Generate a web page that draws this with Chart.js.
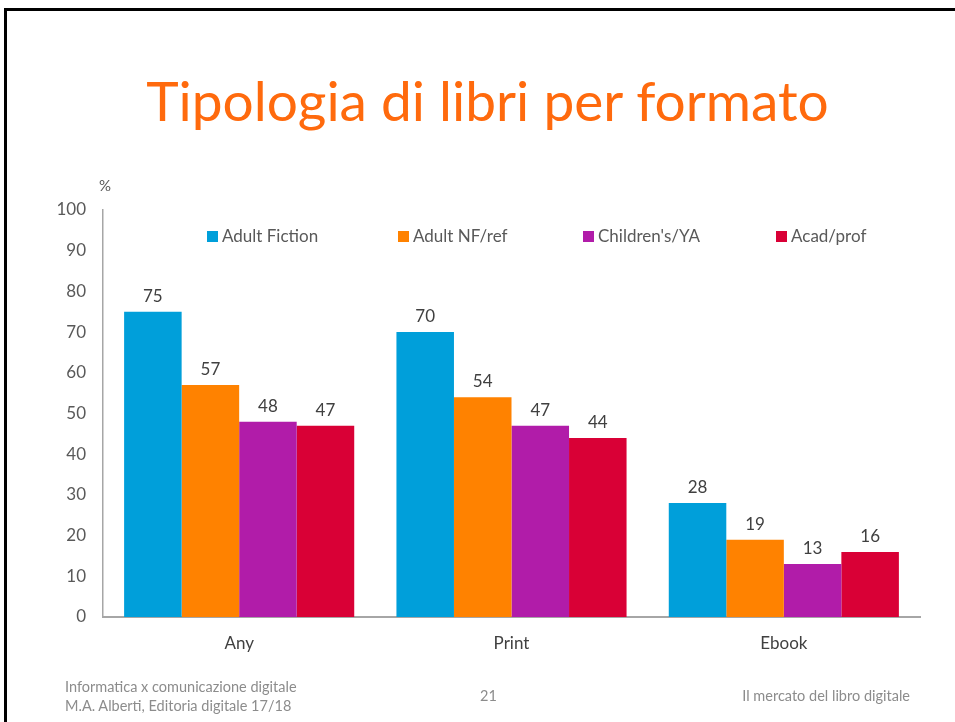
<!DOCTYPE html>
<html>
<head>
<meta charset="utf-8">
<script src="https://cdn.jsdelivr.net/npm/chart.js@4.4.1/dist/chart.umd.min.js"></script>
<style>
  html, body { margin: 0; padding: 0; background: #fff; }
  body { width: 955px; height: 722px; position: relative; overflow: hidden; font-family: Lato, "Open Sans", sans-serif; }
  #frame { position: absolute; left: 4px; top: 8px; width: 1000px; height: 800px; border-top: 3px solid #000; border-left: 3px solid #000; box-sizing: border-box; }
  #chart { position: absolute; left: 0; top: 0; }
  .title { position: absolute; left: 0; width: 975px; top: 67px; text-align: center; color: #ff6a0d; font-size: 55px; white-space: nowrap; }
  .pct { position: absolute; left: 99px; top: 176px; color: #595959; font-size: 15px; }
  .legend { position: absolute; top: 225px; color: #595959; font-size: 17px; white-space: nowrap; }
  .legend i { display: inline-block; width: 11px; height: 11px; margin-right: 4px; vertical-align: 0px; }
  .foot { position: absolute; color: #8c8c8c; font-size: 14.5px; white-space: nowrap; }
</style>
</head>
<body>
<div id="frame"></div>
<canvas id="chart" width="955" height="722"></canvas>
<div class="title">Tipologia di libri per formato</div>
<div class="pct">%</div>
<div id="legend"></div>
<div class="foot" style="left:65px; top:678px;">Informatica x comunicazione digitale</div>
<div class="foot" style="left:65px; top:697px;">M.A. Alberti, Editoria digitale 17/18</div>
<div class="foot" style="left:480px; top:687px;">21</div>
<div class="foot" style="right:45px; top:687px;">Il mercato del libro digitale</div>
<script>
const categories = ['Any', 'Print', 'Ebook'];
const seriesNames = ['Adult Fiction', 'Adult NF/ref', "Children's/YA", 'Acad/prof'];
const adultFiction = [75, 70, 28];
const adultNF = [57, 54, 19];
const childrens = [48, 47, 13];
const acadProf = [47, 44, 16];
const yTicks = [0, 10, 20, 30, 40, 50, 60, 70, 80, 90, 100];

const colors = ['#009fda', '#ff8200', '#b11ca9', '#d90036'];
const legendX = [207, 398, 583, 776];

// legend
const legendEl = document.getElementById('legend');
seriesNames.forEach((name, i) => {
    const d = document.createElement('div');
    d.className = 'legend';
    d.style.left = legendX[i] + 'px';
    d.innerHTML = '<i style="background:' + colors[i] + '"></i>' + name;
    legendEl.appendChild(d);
});

// value labels above bars
const valueLabels = {
    id: 'valueLabels',
    afterDatasetsDraw(chart) {
        const ctx = chart.ctx;
        ctx.save();
        ctx.font = '17px Lato, "Open Sans", sans-serif';
        ctx.fillStyle = '#404040';
        ctx.textAlign = 'center';
        ctx.textBaseline = 'bottom';
        chart.data.datasets.forEach((ds, i) => {
            chart.getDatasetMeta(i).data.forEach((bar, j) => {
                ctx.fillText(ds.data[j], bar.x, bar.y - 7);
            });
        });
        ctx.restore();
    }
};

const allSeries = [adultFiction, adultNF, childrens, acadProf];

new Chart(document.getElementById('chart'), {
    type: 'bar',
    data: {
        labels: categories,
        datasets: allSeries.map((vals, i) => ({
            label: seriesNames[i],
            data: vals,
            backgroundColor: colors[i],
            borderWidth: 0
        }))
    },
    options: {
        responsive: false,
        animation: false,
        layout: { padding: { top: 210, right: 35, bottom: 0, left: 0 } },
        datasets: { bar: { categoryPercentage: 0.845, barPercentage: 1 } },
        plugins: { legend: { display: false }, tooltip: { enabled: false } },
        scales: {
            x: {
                grid: { display: false, drawTicks: false },
                border: { color: '#a6a6a6', width: 2 },
                ticks: { color: '#404040', font: { size: 17, family: 'Lato' }, padding: 16 },
                afterFit: s => { s.height = 105; }
            },
            y: {
                min: 0, max: 100,
                afterBuildTicks: s => { s.ticks = yTicks.map(v => ({ value: v })); },
                grid: { display: false, drawTicks: false },
                border: { color: '#a6a6a6', width: 1.5 },
                ticks: { color: '#595959', font: { size: 17, family: 'Lato' }, padding: 17 },
                afterFit: s => { s.width = 103; }
            }
        }
    },
    plugins: [valueLabels]
});
</script>
</body>
</html>
